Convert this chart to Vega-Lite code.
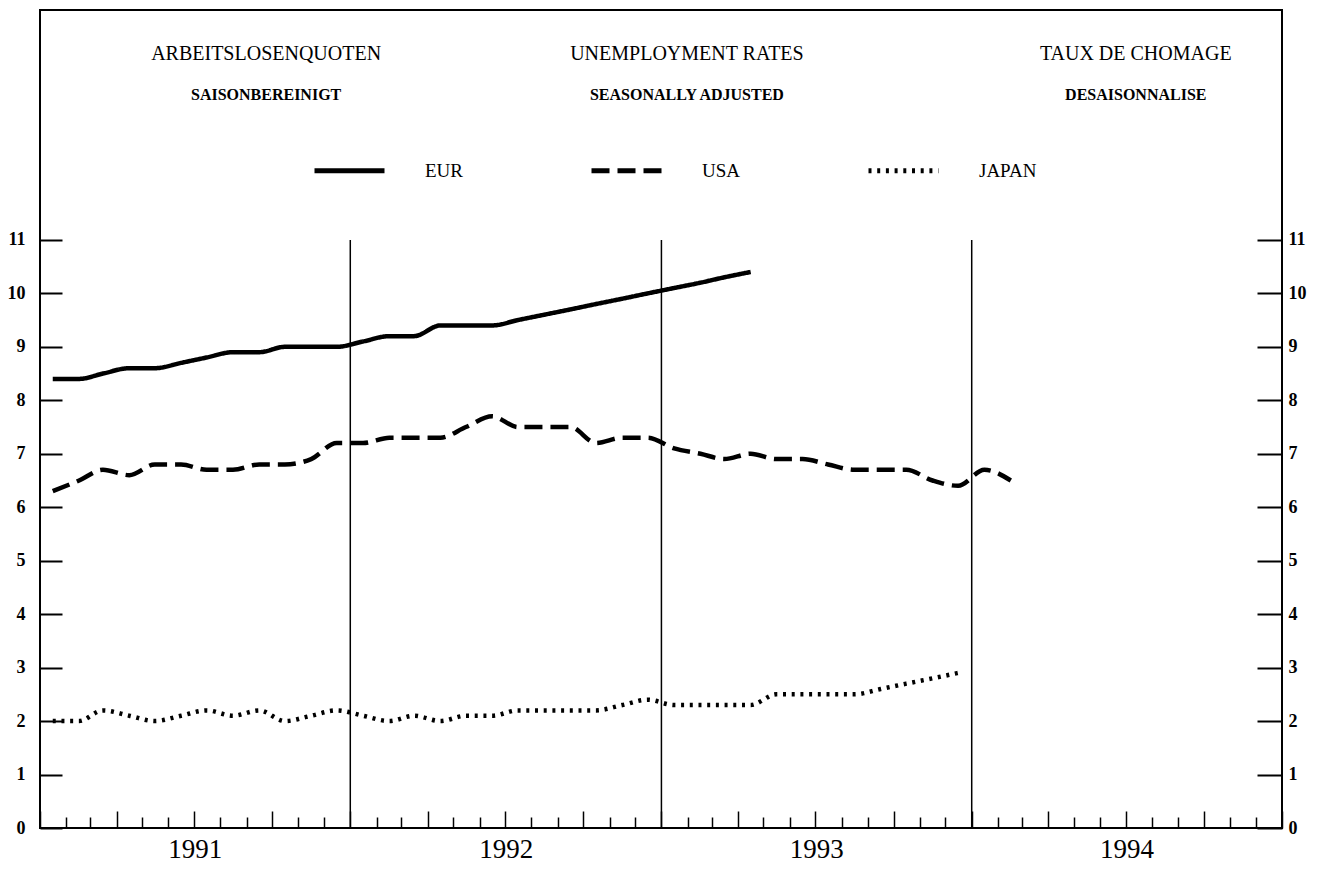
{
  "$schema": "https://vega.github.io/schema/vega-lite/v6.json",
  "width": 1242,
  "height": 818,
  "autosize": {"type": "none"},
  "padding": {"left": 40, "top": 10, "right": 45, "bottom": 42},
  "background": "white",
  "config": {
    "view": {"stroke": "black", "strokeWidth": 2},
    "font": "Liberation Serif",
    "axis": {"grid": false, "domain": false, "labelColor": "black", "tickColor": "black", "title": null, "labelFont": "Liberation Serif"}
  },
  "datasets": {
    "rates": [
      {"date": "1991-01-16", "series": "EUR", "rate": 8.4},
      {"date": "1991-02-16", "series": "EUR", "rate": 8.4},
      {"date": "1991-03-16", "series": "EUR", "rate": 8.5},
      {"date": "1991-04-16", "series": "EUR", "rate": 8.6},
      {"date": "1991-05-16", "series": "EUR", "rate": 8.6},
      {"date": "1991-06-16", "series": "EUR", "rate": 8.7},
      {"date": "1991-07-16", "series": "EUR", "rate": 8.8},
      {"date": "1991-08-16", "series": "EUR", "rate": 8.9},
      {"date": "1991-09-16", "series": "EUR", "rate": 8.9},
      {"date": "1991-10-16", "series": "EUR", "rate": 9.0},
      {"date": "1991-11-16", "series": "EUR", "rate": 9.0},
      {"date": "1991-12-16", "series": "EUR", "rate": 9.0},
      {"date": "1992-01-16", "series": "EUR", "rate": 9.1},
      {"date": "1992-02-16", "series": "EUR", "rate": 9.2},
      {"date": "1992-03-16", "series": "EUR", "rate": 9.2},
      {"date": "1992-04-16", "series": "EUR", "rate": 9.4},
      {"date": "1992-05-16", "series": "EUR", "rate": 9.4},
      {"date": "1992-06-16", "series": "EUR", "rate": 9.4},
      {"date": "1992-07-16", "series": "EUR", "rate": 9.5},
      {"date": "1992-08-16", "series": "EUR", "rate": 9.6},
      {"date": "1992-09-16", "series": "EUR", "rate": 9.7},
      {"date": "1992-10-16", "series": "EUR", "rate": 9.8},
      {"date": "1992-11-16", "series": "EUR", "rate": 9.9},
      {"date": "1992-12-16", "series": "EUR", "rate": 10.0},
      {"date": "1993-01-16", "series": "EUR", "rate": 10.1},
      {"date": "1993-02-16", "series": "EUR", "rate": 10.2},
      {"date": "1993-03-16", "series": "EUR", "rate": 10.3},
      {"date": "1993-04-16", "series": "EUR", "rate": 10.4},
      {"date": "1991-01-16", "series": "USA", "rate": 6.3},
      {"date": "1991-02-16", "series": "USA", "rate": 6.5},
      {"date": "1991-03-16", "series": "USA", "rate": 6.7},
      {"date": "1991-04-16", "series": "USA", "rate": 6.6},
      {"date": "1991-05-16", "series": "USA", "rate": 6.8},
      {"date": "1991-06-16", "series": "USA", "rate": 6.8},
      {"date": "1991-07-16", "series": "USA", "rate": 6.7},
      {"date": "1991-08-16", "series": "USA", "rate": 6.7},
      {"date": "1991-09-16", "series": "USA", "rate": 6.8},
      {"date": "1991-10-16", "series": "USA", "rate": 6.8},
      {"date": "1991-11-16", "series": "USA", "rate": 6.9},
      {"date": "1991-12-16", "series": "USA", "rate": 7.2},
      {"date": "1992-01-16", "series": "USA", "rate": 7.2},
      {"date": "1992-02-16", "series": "USA", "rate": 7.3},
      {"date": "1992-03-16", "series": "USA", "rate": 7.3},
      {"date": "1992-04-16", "series": "USA", "rate": 7.3},
      {"date": "1992-05-16", "series": "USA", "rate": 7.5},
      {"date": "1992-06-16", "series": "USA", "rate": 7.7},
      {"date": "1992-07-16", "series": "USA", "rate": 7.5},
      {"date": "1992-08-16", "series": "USA", "rate": 7.5},
      {"date": "1992-09-16", "series": "USA", "rate": 7.5},
      {"date": "1992-10-16", "series": "USA", "rate": 7.2},
      {"date": "1992-11-16", "series": "USA", "rate": 7.3},
      {"date": "1992-12-16", "series": "USA", "rate": 7.3},
      {"date": "1993-01-16", "series": "USA", "rate": 7.1},
      {"date": "1993-02-16", "series": "USA", "rate": 7.0},
      {"date": "1993-03-16", "series": "USA", "rate": 6.9},
      {"date": "1993-04-16", "series": "USA", "rate": 7.0},
      {"date": "1993-05-16", "series": "USA", "rate": 6.9},
      {"date": "1993-06-16", "series": "USA", "rate": 6.9},
      {"date": "1993-07-16", "series": "USA", "rate": 6.8},
      {"date": "1993-08-16", "series": "USA", "rate": 6.7},
      {"date": "1993-09-16", "series": "USA", "rate": 6.7},
      {"date": "1993-10-16", "series": "USA", "rate": 6.7},
      {"date": "1993-11-16", "series": "USA", "rate": 6.5},
      {"date": "1993-12-16", "series": "USA", "rate": 6.4},
      {"date": "1994-01-16", "series": "USA", "rate": 6.7},
      {"date": "1994-02-16", "series": "USA", "rate": 6.5},
      {"date": "1991-01-16", "series": "JAPAN", "rate": 2.0},
      {"date": "1991-02-16", "series": "JAPAN", "rate": 2.0},
      {"date": "1991-03-16", "series": "JAPAN", "rate": 2.2},
      {"date": "1991-04-16", "series": "JAPAN", "rate": 2.1},
      {"date": "1991-05-16", "series": "JAPAN", "rate": 2.0},
      {"date": "1991-06-16", "series": "JAPAN", "rate": 2.1},
      {"date": "1991-07-16", "series": "JAPAN", "rate": 2.2},
      {"date": "1991-08-16", "series": "JAPAN", "rate": 2.1},
      {"date": "1991-09-16", "series": "JAPAN", "rate": 2.2},
      {"date": "1991-10-16", "series": "JAPAN", "rate": 2.0},
      {"date": "1991-11-16", "series": "JAPAN", "rate": 2.1},
      {"date": "1991-12-16", "series": "JAPAN", "rate": 2.2},
      {"date": "1992-01-16", "series": "JAPAN", "rate": 2.1},
      {"date": "1992-02-16", "series": "JAPAN", "rate": 2.0},
      {"date": "1992-03-16", "series": "JAPAN", "rate": 2.1},
      {"date": "1992-04-16", "series": "JAPAN", "rate": 2.0},
      {"date": "1992-05-16", "series": "JAPAN", "rate": 2.1},
      {"date": "1992-06-16", "series": "JAPAN", "rate": 2.1},
      {"date": "1992-07-16", "series": "JAPAN", "rate": 2.2},
      {"date": "1992-08-16", "series": "JAPAN", "rate": 2.2},
      {"date": "1992-09-16", "series": "JAPAN", "rate": 2.2},
      {"date": "1992-10-16", "series": "JAPAN", "rate": 2.2},
      {"date": "1992-11-16", "series": "JAPAN", "rate": 2.3},
      {"date": "1992-12-16", "series": "JAPAN", "rate": 2.4},
      {"date": "1993-01-16", "series": "JAPAN", "rate": 2.3},
      {"date": "1993-02-16", "series": "JAPAN", "rate": 2.3},
      {"date": "1993-03-16", "series": "JAPAN", "rate": 2.3},
      {"date": "1993-04-16", "series": "JAPAN", "rate": 2.3},
      {"date": "1993-05-16", "series": "JAPAN", "rate": 2.5},
      {"date": "1993-06-16", "series": "JAPAN", "rate": 2.5},
      {"date": "1993-07-16", "series": "JAPAN", "rate": 2.5},
      {"date": "1993-08-16", "series": "JAPAN", "rate": 2.5},
      {"date": "1993-09-16", "series": "JAPAN", "rate": 2.6},
      {"date": "1993-10-16", "series": "JAPAN", "rate": 2.7},
      {"date": "1993-11-16", "series": "JAPAN", "rate": 2.8},
      {"date": "1993-12-16", "series": "JAPAN", "rate": 2.9}
    ],
    "years": [
      {"date": "1992-01-01"},
      {"date": "1993-01-01"},
      {"date": "1994-01-01"}
    ]
  },
  "resolve": {"axis": {"x": "independent", "y": "independent"}},
  "layer": [
    {
      "data": {"name": "years"},
      "mark": {"type": "rule", "color": "black", "strokeWidth": 1.5},
      "encoding": {
        "x": {
          "field": "date", "type": "temporal",
          "scale": {"type": "utc", "domain": [{"year": 1991, "month": 1, "date": 1, "utc": true}, {"year": 1995, "month": 1, "date": 1, "utc": true}]},
          "axis": {
            "orient": "bottom",
            "tickCount": {"interval": "month", "step": 1},
            "labels": false,
            "tickWidth": 1.5,
            "tickSize": {"condition": {"test": "utcmonth(datum.value) % 3 === 0", "value": -17}, "value": -11}
          }
        },
        "y": {
          "datum": 0, "type": "quantitative",
          "scale": {"domain": [0, 15.3], "nice": false},
          "axis": {
            "orient": "right",
            "values": [0, 1, 2, 3, 4, 5, 6, 7, 8, 9, 10, 11],
            "tickSize": -25,
            "tickWidth": 2,
            "labelPadding": 31,
            "labelFontSize": 18,
            "labelFontWeight": "bold"
          }
        },
        "y2": {"datum": 11}
      }
    },
    {
      "data": {"name": "rates"},
      "mark": {"type": "line", "interpolate": "monotone", "color": "black", "strokeWidth": 4.5},
      "encoding": {
        "x": {
          "field": "date", "type": "temporal",
          "scale": {"type": "utc"},
          "axis": {
            "orient": "bottom",
            "values": [
              {"year": 1991, "month": 7, "date": 2, "utc": true},
              {"year": 1992, "month": 7, "date": 2, "utc": true},
              {"year": 1993, "month": 7, "date": 2, "utc": true},
              {"year": 1994, "month": 7, "date": 2, "utc": true}
            ],
            "format": "%Y",
            "ticks": false,
            "labelFontSize": 27,
            "labelPadding": 8
          }
        },
        "y": {
          "field": "rate", "type": "quantitative",
          "axis": {
            "orient": "left",
            "values": [0, 1, 2, 3, 4, 5, 6, 7, 8, 9, 10, 11],
            "tickSize": -22,
            "tickWidth": 2,
            "labelPadding": 37,
            "labelFontSize": 18,
            "labelFontWeight": "bold"
          }
        },
        "strokeDash": {
          "field": "series", "type": "nominal",
          "scale": {"domain": ["EUR", "USA", "JAPAN"], "range": [[1, 0], [18, 8], [3, 5.7]]},
          "legend": {
            "orient": "none", "legendX": 272, "legendY": 123,
            "direction": "horizontal", "title": null,
            "symbolType": "stroke", "symbolSize": 4900, "symbolStrokeWidth": 5, "symbolStrokeColor": "black",
            "labelFont": "Liberation Serif", "labelFontSize": 19, "labelColor": "black",
            "labelOffset": 38, "columnPadding": 98, "gridAlign": "all", "padding": 0
          }
        }
      }
    },
    {
      "data": {"values": [{}]},
      "mark": {"type": "text", "text": "ARBEITSLOSENQUOTEN", "fontSize": 20, "baseline": "middle", "align": "center", "color": "black"},
      "encoding": {
        "x": {"datum": {"year": 1991, "month": 9, "date": 24, "utc": true}, "type": "temporal", "scale": {"type": "utc"}, "axis": null},
        "y": {"datum": 14.48, "type": "quantitative", "axis": null}
      }
    },
    {
      "data": {"values": [{}]},
      "mark": {"type": "text", "text": "SAISONBEREINIGT", "fontSize": 16, "fontWeight": "bold", "baseline": "middle", "align": "center", "color": "black"},
      "encoding": {
        "x": {"datum": {"year": 1991, "month": 9, "date": 24, "utc": true}, "type": "temporal", "scale": {"type": "utc"}, "axis": null},
        "y": {"datum": 13.71, "type": "quantitative", "axis": null}
      }
    },
    {
      "data": {"values": [{}]},
      "mark": {"type": "text", "text": "UNEMPLOYMENT RATES", "fontSize": 20, "baseline": "middle", "align": "center", "color": "black"},
      "encoding": {
        "x": {"datum": {"year": 1993, "month": 1, "date": 31, "utc": true}, "type": "temporal", "scale": {"type": "utc"}, "axis": null},
        "y": {"datum": 14.48, "type": "quantitative", "axis": null}
      }
    },
    {
      "data": {"values": [{}]},
      "mark": {"type": "text", "text": "SEASONALLY ADJUSTED", "fontSize": 16, "fontWeight": "bold", "baseline": "middle", "align": "center", "color": "black"},
      "encoding": {
        "x": {"datum": {"year": 1993, "month": 1, "date": 31, "utc": true}, "type": "temporal", "scale": {"type": "utc"}, "axis": null},
        "y": {"datum": 13.71, "type": "quantitative", "axis": null}
      }
    },
    {
      "data": {"values": [{}]},
      "mark": {"type": "text", "text": "TAUX DE CHOMAGE", "fontSize": 20, "baseline": "middle", "align": "center", "color": "black"},
      "encoding": {
        "x": {"datum": {"year": 1994, "month": 7, "date": 13, "utc": true}, "type": "temporal", "scale": {"type": "utc"}, "axis": null},
        "y": {"datum": 14.48, "type": "quantitative", "axis": null}
      }
    },
    {
      "data": {"values": [{}]},
      "mark": {"type": "text", "text": "DESAISONNALISE", "fontSize": 16, "fontWeight": "bold", "baseline": "middle", "align": "center", "color": "black"},
      "encoding": {
        "x": {"datum": {"year": 1994, "month": 7, "date": 13, "utc": true}, "type": "temporal", "scale": {"type": "utc"}, "axis": null},
        "y": {"datum": 13.71, "type": "quantitative", "axis": null}
      }
    }
  ]
}
